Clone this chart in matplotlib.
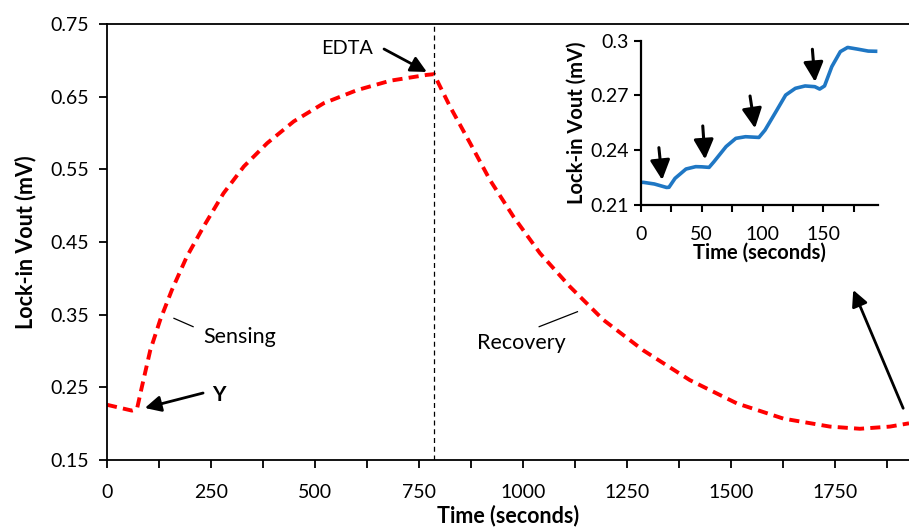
import matplotlib
matplotlib.use("Agg")
import matplotlib.pyplot as plt
from matplotlib.ticker import MultipleLocator

plt.rcParams['font.family'] = ['Lato', 'DejaVu Sans']

# Main curve (seconds, mV)
main_time = [0, 30, 60, 72, 84, 104, 128, 156, 192, 232, 280, 329, 385, 449, 521,
             601, 681, 769, 786, 825, 873, 921, 977, 1041, 1113, 1193, 1289, 1401,
             1514, 1626, 1738, 1810, 1882, 1928]
main_vout = [0.226, 0.222, 0.218, 0.220, 0.251, 0.301, 0.343, 0.384, 0.430, 0.471,
             0.517, 0.554, 0.586, 0.616, 0.641, 0.659, 0.672, 0.680, 0.681, 0.636,
             0.586, 0.535, 0.485, 0.4345, 0.3885, 0.343, 0.301, 0.260, 0.228, 0.207,
             0.196, 0.193, 0.196, 0.2005]

# Inset curve (seconds, mV)
inset_time = [0, 2, 11, 21, 23, 28, 37, 45, 50, 56, 60, 70, 78, 86, 97, 102, 111, 119,
              127, 135, 143, 147, 151, 157, 164, 170, 178, 187, 193]
inset_vout = [0.2224, 0.2224, 0.2215, 0.2196, 0.2197, 0.2246, 0.2297, 0.2310, 0.2309,
              0.2306, 0.2337, 0.2420, 0.2465, 0.2474, 0.2470, 0.2510, 0.2611, 0.2702,
              0.2739, 0.2752, 0.2748, 0.2735, 0.2752, 0.2858, 0.2940, 0.2963, 0.2954,
              0.2943, 0.2942]

# Inset arrows: (tip x, tip y, tail x, tail y)
inset_arrows = [(17.4, 0.2237, 14.7, 0.2414),
                (52.7, 0.2350, 50.8, 0.2533),
                (93.8, 0.2520, 89.7, 0.2697),
                (143.2, 0.2774, 141.0, 0.2953)]

main_xticks = [0, 250, 500, 750, 1000, 1250, 1500, 1750]
main_yticks = [0.15, 0.25, 0.35, 0.45, 0.55, 0.65, 0.75]
inset_xticks = [0, 50, 100, 150]
inset_yticks = [0.21, 0.24, 0.27, 0.30]
inset_yticklabels = ['0.21', '0.24', '0.27', '0.3']
edta_time = 787

fig = plt.figure(figsize=(9.09, 5.29), dpi=100)
ax = fig.add_axes([0.1177, 0.1304, 0.8823, 0.8242])

ax.plot(main_time, main_vout, color='#FF0000', lw=2.8, linestyle=(0, (2.6, 1.6)),
        dash_capstyle='butt')
ax.axvline(edta_time, color='black', lw=0.9, linestyle=(0, (4, 3)))

ax.set_xlim(0, 1928)
ax.set_ylim(0.15, 0.75)
ax.set_xticks(main_xticks)
ax.xaxis.set_minor_locator(MultipleLocator(125))
ax.set_yticks(main_yticks)
ax.set_yticklabels([f'{v:.2f}' for v in main_yticks])
ax.tick_params(axis='both', which='both', direction='out', length=6, width=1.3,
               labelsize=14, colors='black')
ax.tick_params(axis='x', which='both', pad=11)
ax.tick_params(axis='y', which='both', pad=7)
for s in ['left', 'bottom', 'top']:
    ax.spines[s].set_linewidth(1.3)
ax.spines['right'].set_visible(False)
ax.set_xlabel('Time (seconds)', fontsize=15.5, fontweight='bold', labelpad=3)
ax.set_ylabel('Lock-in Vout (mV)', fontsize=15.5, fontweight='bold', labelpad=10)

arrow_kw = dict(arrowstyle='-|>', color='black', lw=2, mutation_scale=24,
                shrinkA=0, shrinkB=0)
ax.annotate('', xy=(91, 0.2216), xytext=(231, 0.2422), arrowprops=arrow_kw)
ax.text(252, 0.2395, 'Y', fontsize=15, fontweight='bold', ha='left', va='center')
ax.annotate('', xy=(769, 0.684), xytext=(666, 0.7156), arrowprops=arrow_kw)
ax.text(576, 0.716, 'EDTA', fontsize=14.3, ha='center', va='center')
ax.annotate('', xy=(1794, 0.384), xytext=(1914, 0.2212), arrowprops=arrow_kw)

ax.plot([161, 207], [0.345, 0.3335], color='black', lw=0.9)
ax.text(320, 0.3197, 'Sensing', fontsize=15.5, ha='center', va='center')
ax.plot([1039, 1131], [0.3335, 0.3541], color='black', lw=0.9)
ax.text(997, 0.3106, 'Recovery', fontsize=15.5, ha='center', va='center')

# Inset
ins = fig.add_axes([0.7052, 0.6125, 0.2607, 0.3106])
ins.plot(inset_time, inset_vout, color='#1F77C4', lw=2.6, solid_joinstyle='round')
for tx, ty, sx, sy in inset_arrows:
    ins.annotate('', xy=(tx, ty), xytext=(sx, sy),
                 arrowprops=dict(arrowstyle='-|>', color='black', lw=2.2,
                                 mutation_scale=30, shrinkA=0, shrinkB=0))
ins.set_xlim(0, 195)
ins.set_ylim(0.21, 0.30)
ins.set_xticks(inset_xticks)
ins.xaxis.set_minor_locator(MultipleLocator(25))
ins.set_yticks(inset_yticks)
ins.set_yticklabels(inset_yticklabels)
ins.tick_params(axis='both', which='both', direction='out', length=5, width=1.5,
                labelsize=14, colors='black')
ins.tick_params(axis='x', which='both', pad=10)
ins.spines['top'].set_visible(False)
ins.spines['right'].set_visible(False)
for s in ['left', 'bottom']:
    ins.spines[s].set_linewidth(1.6)
ins.set_xlabel('Time (seconds)', fontsize=14.5, fontweight='bold', labelpad=0)
ins.set_ylabel('Lock-in Vout (mV)', fontsize=14.5, fontweight='bold', labelpad=3)

fig.savefig('out.png', dpi=100)
